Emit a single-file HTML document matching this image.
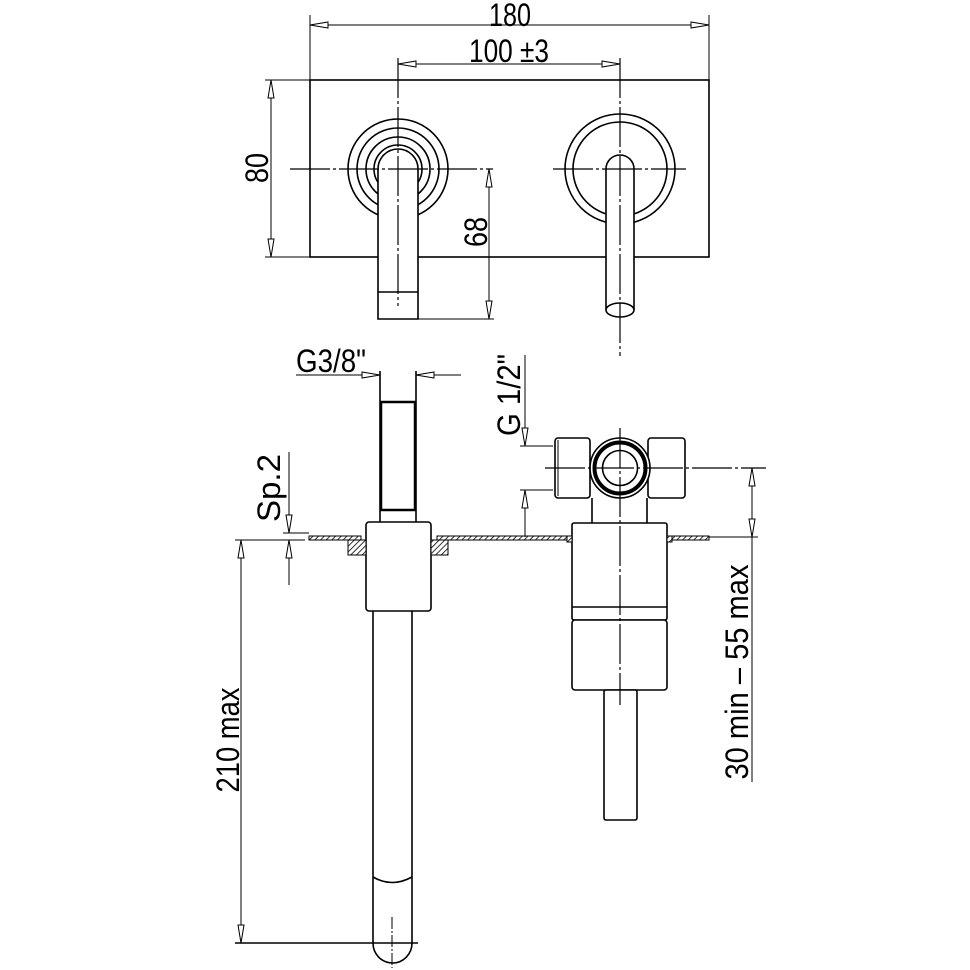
<!DOCTYPE html>
<html><head><meta charset="utf-8"><style>
html,body{margin:0;padding:0;background:#fff}
svg{display:block}
text{font-family:"Liberation Sans",sans-serif;fill:#000}
</style></head><body>
<svg width="970" height="970" viewBox="0 0 970 970" xmlns="http://www.w3.org/2000/svg">
<defs>
<marker id="a" viewBox="0 -5 20 10" refX="19" refY="0" markerWidth="20" markerHeight="10" markerUnits="userSpaceOnUse" orient="auto-start-reverse">
<path d="M1,-3 L19,0 L1,3 Z" fill="#fff" stroke="#000" stroke-width="1"/>
</marker>
<pattern id="h" width="4" height="4" patternUnits="userSpaceOnUse" patternTransform="rotate(45)">
<rect width="4" height="4" fill="#fff"/><line x1="0" y1="0" x2="0" y2="4" stroke="#000" stroke-width="1.6"/>
</pattern>
</defs>
<g fill="none" stroke="#000" stroke-width="1.6">
<!-- TOP VIEW -->
<line x1="310" y1="15" x2="310" y2="80" stroke-width="1"/>
<line x1="709" y1="15" x2="709" y2="80" stroke-width="1"/>
<line x1="310" y1="25" x2="709" y2="25" stroke-width="1" marker-start="url(#a)" marker-end="url(#a)"/>
<line x1="398" y1="64" x2="620" y2="64" stroke-width="1" marker-start="url(#a)" marker-end="url(#a)"/>
<rect x="310" y="80" width="399" height="177"/>
<line x1="265" y1="80" x2="310" y2="80" stroke-width="1"/>
<line x1="265" y1="257" x2="310" y2="257" stroke-width="1"/>
<line x1="271" y1="80" x2="271" y2="257" stroke-width="1" marker-start="url(#a)" marker-end="url(#a)"/>
<circle cx="398" cy="169" r="50"/>
<circle cx="398" cy="169" r="41"/>
<circle cx="398" cy="169" r="32"/>
<circle cx="398" cy="169" r="24"/>
<path d="M378,319 L378,169 A20,20 0 0 1 418,169 L418,319 Z" fill="#fff"/>
<line x1="378" y1="292" x2="418" y2="292"/>
<circle cx="620" cy="169" r="55"/>
<circle cx="620" cy="169" r="47"/>
<path d="M606,310 L606,169 A14,14 0 0 1 634,169 L634,310" fill="#fff"/>
<ellipse cx="620" cy="310" rx="14" ry="7" fill="#fff"/>
<g stroke-width="1.2" stroke-dasharray="40,3,3,3">
<line x1="290" y1="169" x2="493" y2="169"/>
<line x1="553" y1="169" x2="686" y2="169"/>
<line x1="398" y1="58" x2="398" y2="306"/>
<line x1="620" y1="58" x2="620" y2="356"/>
</g>
<line x1="418" y1="319" x2="494" y2="319" stroke-width="1"/>
<line x1="489" y1="169" x2="489" y2="319" stroke-width="1" marker-start="url(#a)" marker-end="url(#a)"/>

<!-- SIDE VIEW LEFT -->
<line x1="296" y1="375" x2="380" y2="375" stroke-width="1" marker-end="url(#a)"/>
<line x1="461" y1="375" x2="416" y2="375" stroke-width="1" marker-end="url(#a)"/>
<line x1="380" y1="371" x2="380" y2="522"/>
<line x1="416" y1="371" x2="416" y2="522"/>
<rect x="381" y="402" width="34" height="108" stroke-width="2.5"/>
<rect x="366" y="522" width="65" height="89" rx="3" fill="#fff"/>
<path d="M373,611 L373,943 A19.5,20 0 0 0 412,943 L412,611"/>
<path d="M373,877 Q392,888 412,877"/>
<line x1="392" y1="917" x2="392" y2="968" stroke-width="1" stroke-dasharray="12,2,2,2"/>
<rect x="309" y="536" width="52" height="4" fill="url(#h)" stroke-width="1"/>
<rect x="437" y="536" width="132" height="4" fill="url(#h)" stroke-width="1"/>
<rect x="668" y="536" width="41" height="4" fill="url(#h)" stroke-width="1"/>
<rect x="348" y="540" width="18" height="15" fill="url(#h)" stroke-width="1"/>
<rect x="431" y="540" width="17" height="15" fill="url(#h)" stroke-width="1"/>
<line x1="283" y1="533" x2="309" y2="533" stroke-width="1"/>
<line x1="235" y1="540" x2="305" y2="540" stroke-width="1"/>
<line x1="289" y1="452" x2="289" y2="533" stroke-width="1" marker-end="url(#a)"/>
<line x1="289" y1="585" x2="289" y2="540" stroke-width="1" marker-end="url(#a)"/>
<line x1="241" y1="540" x2="241" y2="943" stroke-width="1" marker-start="url(#a)" marker-end="url(#a)"/>
<line x1="235" y1="943" x2="418" y2="943"/>

<!-- RIGHT VALVE -->
<rect x="555" y="438" width="35" height="60" rx="3"/>
<line x1="558" y1="440" x2="558" y2="496" stroke-width="1"/>
<rect x="648" y="438" width="37" height="60" rx="3"/>
<path d="M592,523 L592,498 M647,523 L647,498"/>
<circle cx="620" cy="468" r="30" fill="#fff"/>
<circle cx="620" cy="468" r="25.5" stroke-width="4"/>
<circle cx="620" cy="468" r="17.5"/>
<rect x="572" y="523" width="95" height="97" rx="2" fill="#fff"/>
<line x1="572" y1="607" x2="667" y2="607"/>
<rect x="572" y="620" width="95" height="70" rx="3" fill="#fff"/>
<rect x="604" y="690" width="33" height="130" rx="2" fill="#fff"/>
<rect x="567" y="536" width="5" height="6" fill="url(#h)" stroke-width="1"/>
<rect x="667" y="536" width="5" height="6" fill="url(#h)" stroke-width="1"/>
<g stroke-width="1.2" stroke-dasharray="40,3,3,3">
<line x1="545" y1="468" x2="766" y2="468"/>
<line x1="620" y1="428" x2="620" y2="705"/>
</g>
<line x1="520" y1="446" x2="553" y2="446" stroke-width="1"/>
<line x1="520" y1="490" x2="553" y2="490" stroke-width="1"/>
<line x1="525" y1="355" x2="525" y2="446" stroke-width="1" marker-end="url(#a)"/>
<line x1="525" y1="537" x2="525" y2="490" stroke-width="1" marker-end="url(#a)"/>
<line x1="709" y1="537" x2="758" y2="537" stroke-width="1"/>
<line x1="752" y1="468" x2="752" y2="537" stroke-width="1" marker-start="url(#a)" marker-end="url(#a)"/>
<line x1="752" y1="537" x2="752" y2="782" stroke-width="1"/>
</g>
<g font-size="32">
<text x="510" y="26" text-anchor="middle" textLength="42" lengthAdjust="spacingAndGlyphs">180</text>
<text x="509" y="62" text-anchor="middle" textLength="80" lengthAdjust="spacingAndGlyphs">100 ±3</text>
<text transform="translate(268,168) rotate(-90)" text-anchor="middle" textLength="30" lengthAdjust="spacingAndGlyphs">80</text>
<text transform="translate(487,232) rotate(-90)" text-anchor="middle" textLength="30" lengthAdjust="spacingAndGlyphs">68</text>
<text x="296" y="372" textLength="70" lengthAdjust="spacingAndGlyphs">G3/8"</text>
<text transform="translate(280,488) rotate(-90)" text-anchor="middle" textLength="68" lengthAdjust="spacingAndGlyphs">Sp.2</text>
<text transform="translate(520,395) rotate(-90)" text-anchor="middle" textLength="82" lengthAdjust="spacingAndGlyphs">G 1/2"</text>
<text transform="translate(239,740) rotate(-90)" text-anchor="middle" textLength="105" lengthAdjust="spacingAndGlyphs">210 max</text>
<text transform="translate(748,672) rotate(-90)" text-anchor="middle" textLength="215" lengthAdjust="spacingAndGlyphs">30 min – 55 max</text>
</g>
</svg>
</body></html>
